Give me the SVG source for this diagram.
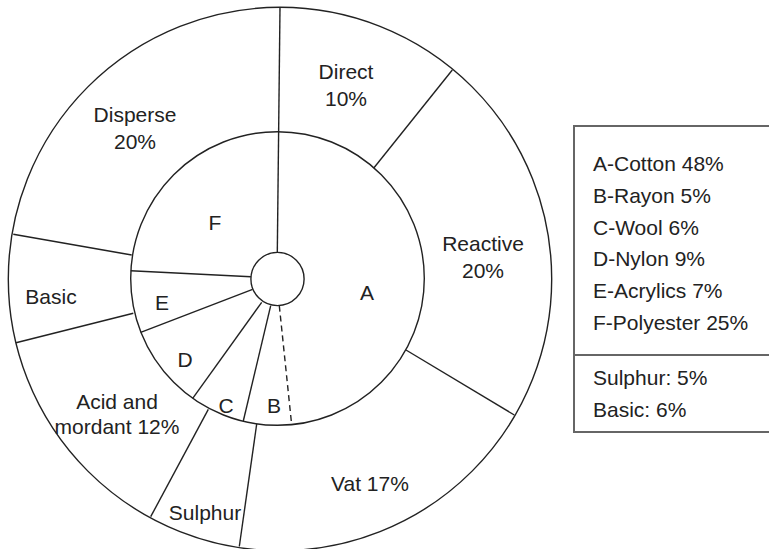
<svg xmlns="http://www.w3.org/2000/svg" width="769" height="549" viewBox="0 0 769 549">
<style>
.c{fill:none;stroke:#222;stroke-width:1.4}
.l{stroke:#222;stroke-width:1.4;fill:none}
.d{stroke:#222;stroke-width:1.4;stroke-dasharray:6 4;fill:none}
.b{stroke:#666;stroke-width:2;fill:none}
text{font-family:"Liberation Sans",Arial,sans-serif;font-size:21px;fill:#222}
.m{text-anchor:middle}
</style>
<rect width="769" height="549" fill="#fff"/>
<g id="rings">
<circle class="c" cx="280" cy="279" r="271.7"/>
<circle class="c" cx="277.5" cy="278.5" r="146.8"/>
<circle class="c" cx="277.5" cy="279" r="26.6"/>
</g>
<g id="connectors">
<line class="l" x1="277.3" y1="252.4" x2="280" y2="7.3"/>
<line class="l" x1="250.9" y1="276.7" x2="130.7" y2="270.7"/>
<line class="l" x1="252.6" y1="289.3" x2="140.7" y2="332.3"/>
<line class="l" x1="261.7" y1="302.3" x2="192.7" y2="398.3"/>
<line class="l" x1="270.7" y1="305.6" x2="243.3" y2="421"/>
<line class="d" x1="279.3" y1="305.6" x2="291.7" y2="425"/>
<line class="l" x1="374" y1="167.7" x2="452.3" y2="70"/>
<line class="l" x1="406" y1="350" x2="514.3" y2="415"/>
<line class="l" x1="256.7" y1="424" x2="239.3" y2="546.5"/>
<line class="l" x1="208.3" y1="409.3" x2="150.7" y2="516.7"/>
<line class="l" x1="133.3" y1="313.3" x2="16" y2="342.7"/>
<line class="l" x1="131.7" y1="255" x2="13.3" y2="234.3"/>
</g>
<g id="outer-labels">
<text class="m" x="346" y="79">Direct</text>
<text class="m" x="346" y="106">10%</text>
<text class="m" x="135" y="122">Disperse</text>
<text class="m" x="135" y="149">20%</text>
<text class="m" x="483" y="251">Reactive</text>
<text class="m" x="483" y="278">20%</text>
<text class="m" x="51" y="304">Basic</text>
<text class="m" x="117" y="409">Acid and</text>
<text class="m" x="117" y="434">mordant 12%</text>
<text class="m" x="370" y="491">Vat 17%</text>
<text class="m" x="205" y="520">Sulphur</text>
</g>
<g id="inner-labels">
<text class="m" x="215" y="230">F</text>
<text class="m" x="367" y="300">A</text>
<text class="m" x="162" y="310">E</text>
<text class="m" x="185" y="367">D</text>
<text class="m" x="226" y="413">C</text>
<text class="m" x="274" y="413">B</text>
</g>
<g id="legend">
<polyline class="b" points="769,126 574,126 574,432 769,432"/>
<line class="b" x1="574" y1="355" x2="769" y2="355"/>
<text x="593" y="171">A-Cotton 48%</text>
<text x="593" y="203">B-Rayon 5%</text>
<text x="593" y="235">C-Wool 6%</text>
<text x="593" y="266">D-Nylon 9%</text>
<text x="593" y="298">E-Acrylics 7%</text>
<text x="593" y="330">F-Polyester 25%</text>
<text x="593" y="385">Sulphur: 5%</text>
<text x="593" y="417">Basic: 6%</text>
</g>
</svg>
